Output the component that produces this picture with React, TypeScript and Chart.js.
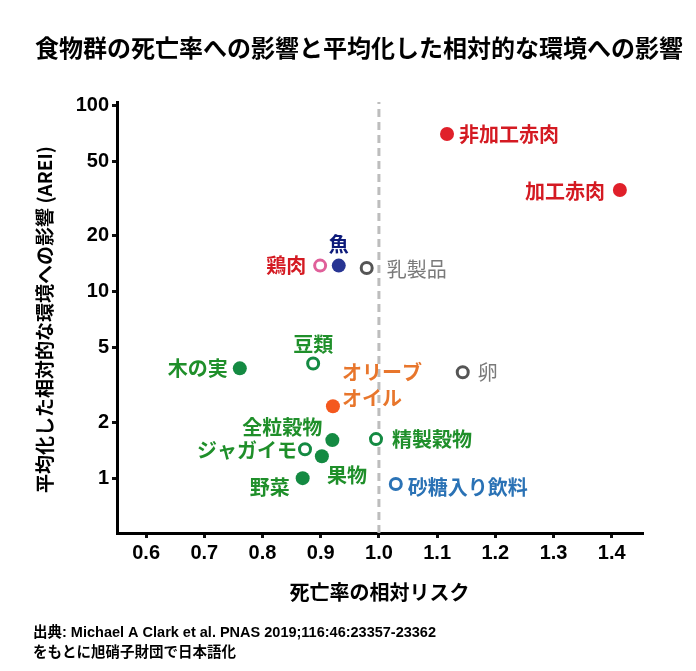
import React, { useEffect, useRef } from "react";
import { Chart, registerables } from "chart.js";

Chart.register(...registerables);

// ---- data ----
const foodGroups = [
  "非加工赤肉", "加工赤肉", "鶏肉", "魚", "乳製品", "木の実", "豆類", "卵",
  "オリーブ\nオイル", "全粒穀物", "精製穀物", "ジャガイモ", "果物", "野菜", "砂糖入り飲料",
];
const relativeRisk = [1.117, 1.414, 0.899, 0.931, 0.979, 0.761, 0.887, 1.144, 0.921, 0.92, 0.995, 0.873, 0.902, 0.869, 1.029];
const arei = [70, 35.1, 13.8, 13.8, 13.4, 3.88, 4.12, 3.7, 2.43, 1.6, 1.62, 1.43, 1.31, 1.0, 0.93];
const filledMarker = [true, true, false, true, false, true, false, false, true, true, false, false, true, true, false];

const xTicks = [0.6, 0.7, 0.8, 0.9, 1.0, 1.1, 1.2, 1.3, 1.4];
const yTicks = [1, 2, 5, 10, 20, 50, 100];
const xRange = [0.55, 1.452];
const yRange = [0.508, 104];
const refLineX = [1.0, 1.0];
const refLineY = [0.508, 104];

const titleText = "食物群の死亡率への影響と平均化した相対的な環境への影響";
const xTitle = "死亡率の相対リスク";
const yTitle = "平均化した相対的な環境への影響 (AREI)";
const sourceLines = ["出典: Michael A Clark et al. PNAS 2019;116:46:23357-23362", "をもとに旭硝子財団で日本語化"];

// ---- styles ----
const RED = "#e0202a";
const RED_TXT = "#d41a22";
const GREEN = "#148a42";
const GREEN_TXT = "#1f8f2a";
const GREY = "#555555";
const GREY_TXT = "#7a7a7a";
const markerColor = [RED, RED, "#e0609a", "#283593", GREY, GREEN, GREEN, GREY, "#f4581e", GREEN, GREEN, GREEN, GREEN, GREEN, "#2b73b6"];
const labelColor = [RED_TXT, RED_TXT, RED_TXT, "#0d1a7a", GREY_TXT, GREEN_TXT, GREEN_TXT, GREY_TXT, "#e8762c", GREEN_TXT, GREEN_TXT, GREEN_TXT, GREEN_TXT, GREEN_TXT, "#2a72b5"];
const labelWeight = ["bold", "bold", "bold", "bold", "normal", "bold", "bold", "normal", "bold", "bold", "bold", "bold", "bold", "bold", "bold"];
const labelAlign: CanvasTextAlign[] = ["left", "right", "right", "center", "left", "right", "center", "left", "left", "right", "left", "right", "left", "right", "left"];
const labelDx = [12, -15, -14, 0, 20, -12, 0, 15, 9, -10, 16, -8, 5, -13, 12];
const labelDy = [0, 1, 0, -21, 1, 0, -19, 0, -34, -13, 0, 1, 19, 9, 3];

const CJK = '"Noto Sans CJK JP", "Noto Sans", sans-serif';
const LATIN = '"Liberation Sans", Arial, sans-serif';

const annotate = {
  id: "annotate",
  afterDatasetsDraw(chart: any) {
    const ctx = chart.ctx;
    const meta = chart.getDatasetMeta(1);
    ctx.save();
    ctx.textBaseline = "middle";
    foodGroups.forEach((name, i) => {
      const pt = meta.data[i];
      if (!pt) return;
      ctx.font = `${labelWeight[i]} 20px ${CJK}`;
      ctx.fillStyle = labelColor[i];
      ctx.textAlign = labelAlign[i];
      name.split("\n").forEach((line, j) => {
        ctx.fillText(line, pt.x + labelDx[i], pt.y + labelDy[i] + j * 26);
      });
    });
    ctx.restore();
  },
  afterDraw(chart: any) {
    const ctx = chart.ctx;
    const area = chart.chartArea;
    ctx.save();
    ctx.fillStyle = "#000";
    ctx.textBaseline = "middle";
    // title
    ctx.font = `bold 24px ${CJK}`;
    ctx.textAlign = "left";
    ctx.fillText(titleText, 35, 48);
    // x title
    ctx.font = `bold 20px ${CJK}`;
    ctx.textAlign = "center";
    ctx.fillText(xTitle, (area.left + area.right) / 2, 592);
    // y title
    ctx.save();
    ctx.translate(45, (area.top + area.bottom) / 2 + 2);
    ctx.rotate(-Math.PI / 2);
    ctx.font = `bold 19px ${CJK}`;
    ctx.fillText(yTitle, 0, 0);
    ctx.restore();
    // source
    ctx.textAlign = "left";
    ctx.font = `bold 14.5px "Liberation Sans", Arial, ${CJK}`;
    ctx.fillText(sourceLines[0], 33, 633);
    ctx.font = `bold 14.5px ${CJK}`;
    ctx.fillText(sourceLines[1], 33, 651);
    ctx.restore();
  },
};

export default function App() {
  const ref = useRef<HTMLCanvasElement | null>(null);
  useEffect(() => {
    if (!ref.current) return;
    const chart = new Chart(ref.current, {
      type: "scatter",
      data: {
        datasets: [
          {
            type: "line",
            data: refLineX.map((x, i) => ({ x, y: refLineY[i] })),
            borderColor: "#bdbdbd",
            borderWidth: 3,
            borderDash: [8, 5],
            pointRadius: 0,
            fill: false,
            order: 2,
          } as any,
          {
            data: relativeRisk.map((x, i) => ({ x, y: arei[i] })),
            pointRadius: filledMarker.map((f) => (f ? 7 : 5.5)),
            pointBorderWidth: filledMarker.map((f) => (f ? 0 : 3)),
            pointBackgroundColor: filledMarker.map((f, i) => (f ? markerColor[i] : "#ffffff")),
            pointBorderColor: markerColor,
            order: 1,
          } as any,
        ],
      },
      options: {
        responsive: false,
        animation: false,
        layout: { padding: { top: 102, right: 54, left: 0, bottom: 0 } },
        plugins: { legend: { display: false }, title: { display: false }, tooltip: { enabled: false } },
        scales: {
          x: {
            type: "linear",
            min: xRange[0],
            max: xRange[1],
            afterFit: (s: any) => { s.height = 138; },
            afterBuildTicks: (s: any) => { s.ticks = xTicks.map((v) => ({ value: v })); },
            ticks: {
              autoSkip: false,
              maxRotation: 0,
              color: "#000",
              padding: 3,
              font: { family: LATIN, size: 20, weight: "bold" },
              callback: (v: any) => Number(v).toFixed(1),
            },
            grid: { drawOnChartArea: false, color: "#111", lineWidth: 3, tickLength: 5 },
            border: { display: true, color: "#000", width: 3 },
          },
          y: {
            type: "logarithmic",
            min: yRange[0],
            max: yRange[1],
            afterFit: (s: any) => { s.width = 117; },
            afterBuildTicks: (s: any) => { s.ticks = yTicks.map((v) => ({ value: v })); },
            ticks: {
              autoSkip: false,
              color: "#000",
              padding: 3,
              font: { family: LATIN, size: 20, weight: "bold" },
              callback: (v: any) => String(v),
            },
            grid: { drawOnChartArea: false, color: "#111", lineWidth: 3, tickLength: 5 },
            border: { display: true, color: "#000", width: 3 },
          },
        },
      },
      plugins: [annotate],
    });
    return () => chart.destroy();
  }, []);
  return (
    <div style={{ position: "absolute", left: 0, top: 0, width: 696, height: 671, background: "#fff" }}>
      <canvas ref={ref} width={696} height={671} style={{ display: "block" }} />
    </div>
  );
}
